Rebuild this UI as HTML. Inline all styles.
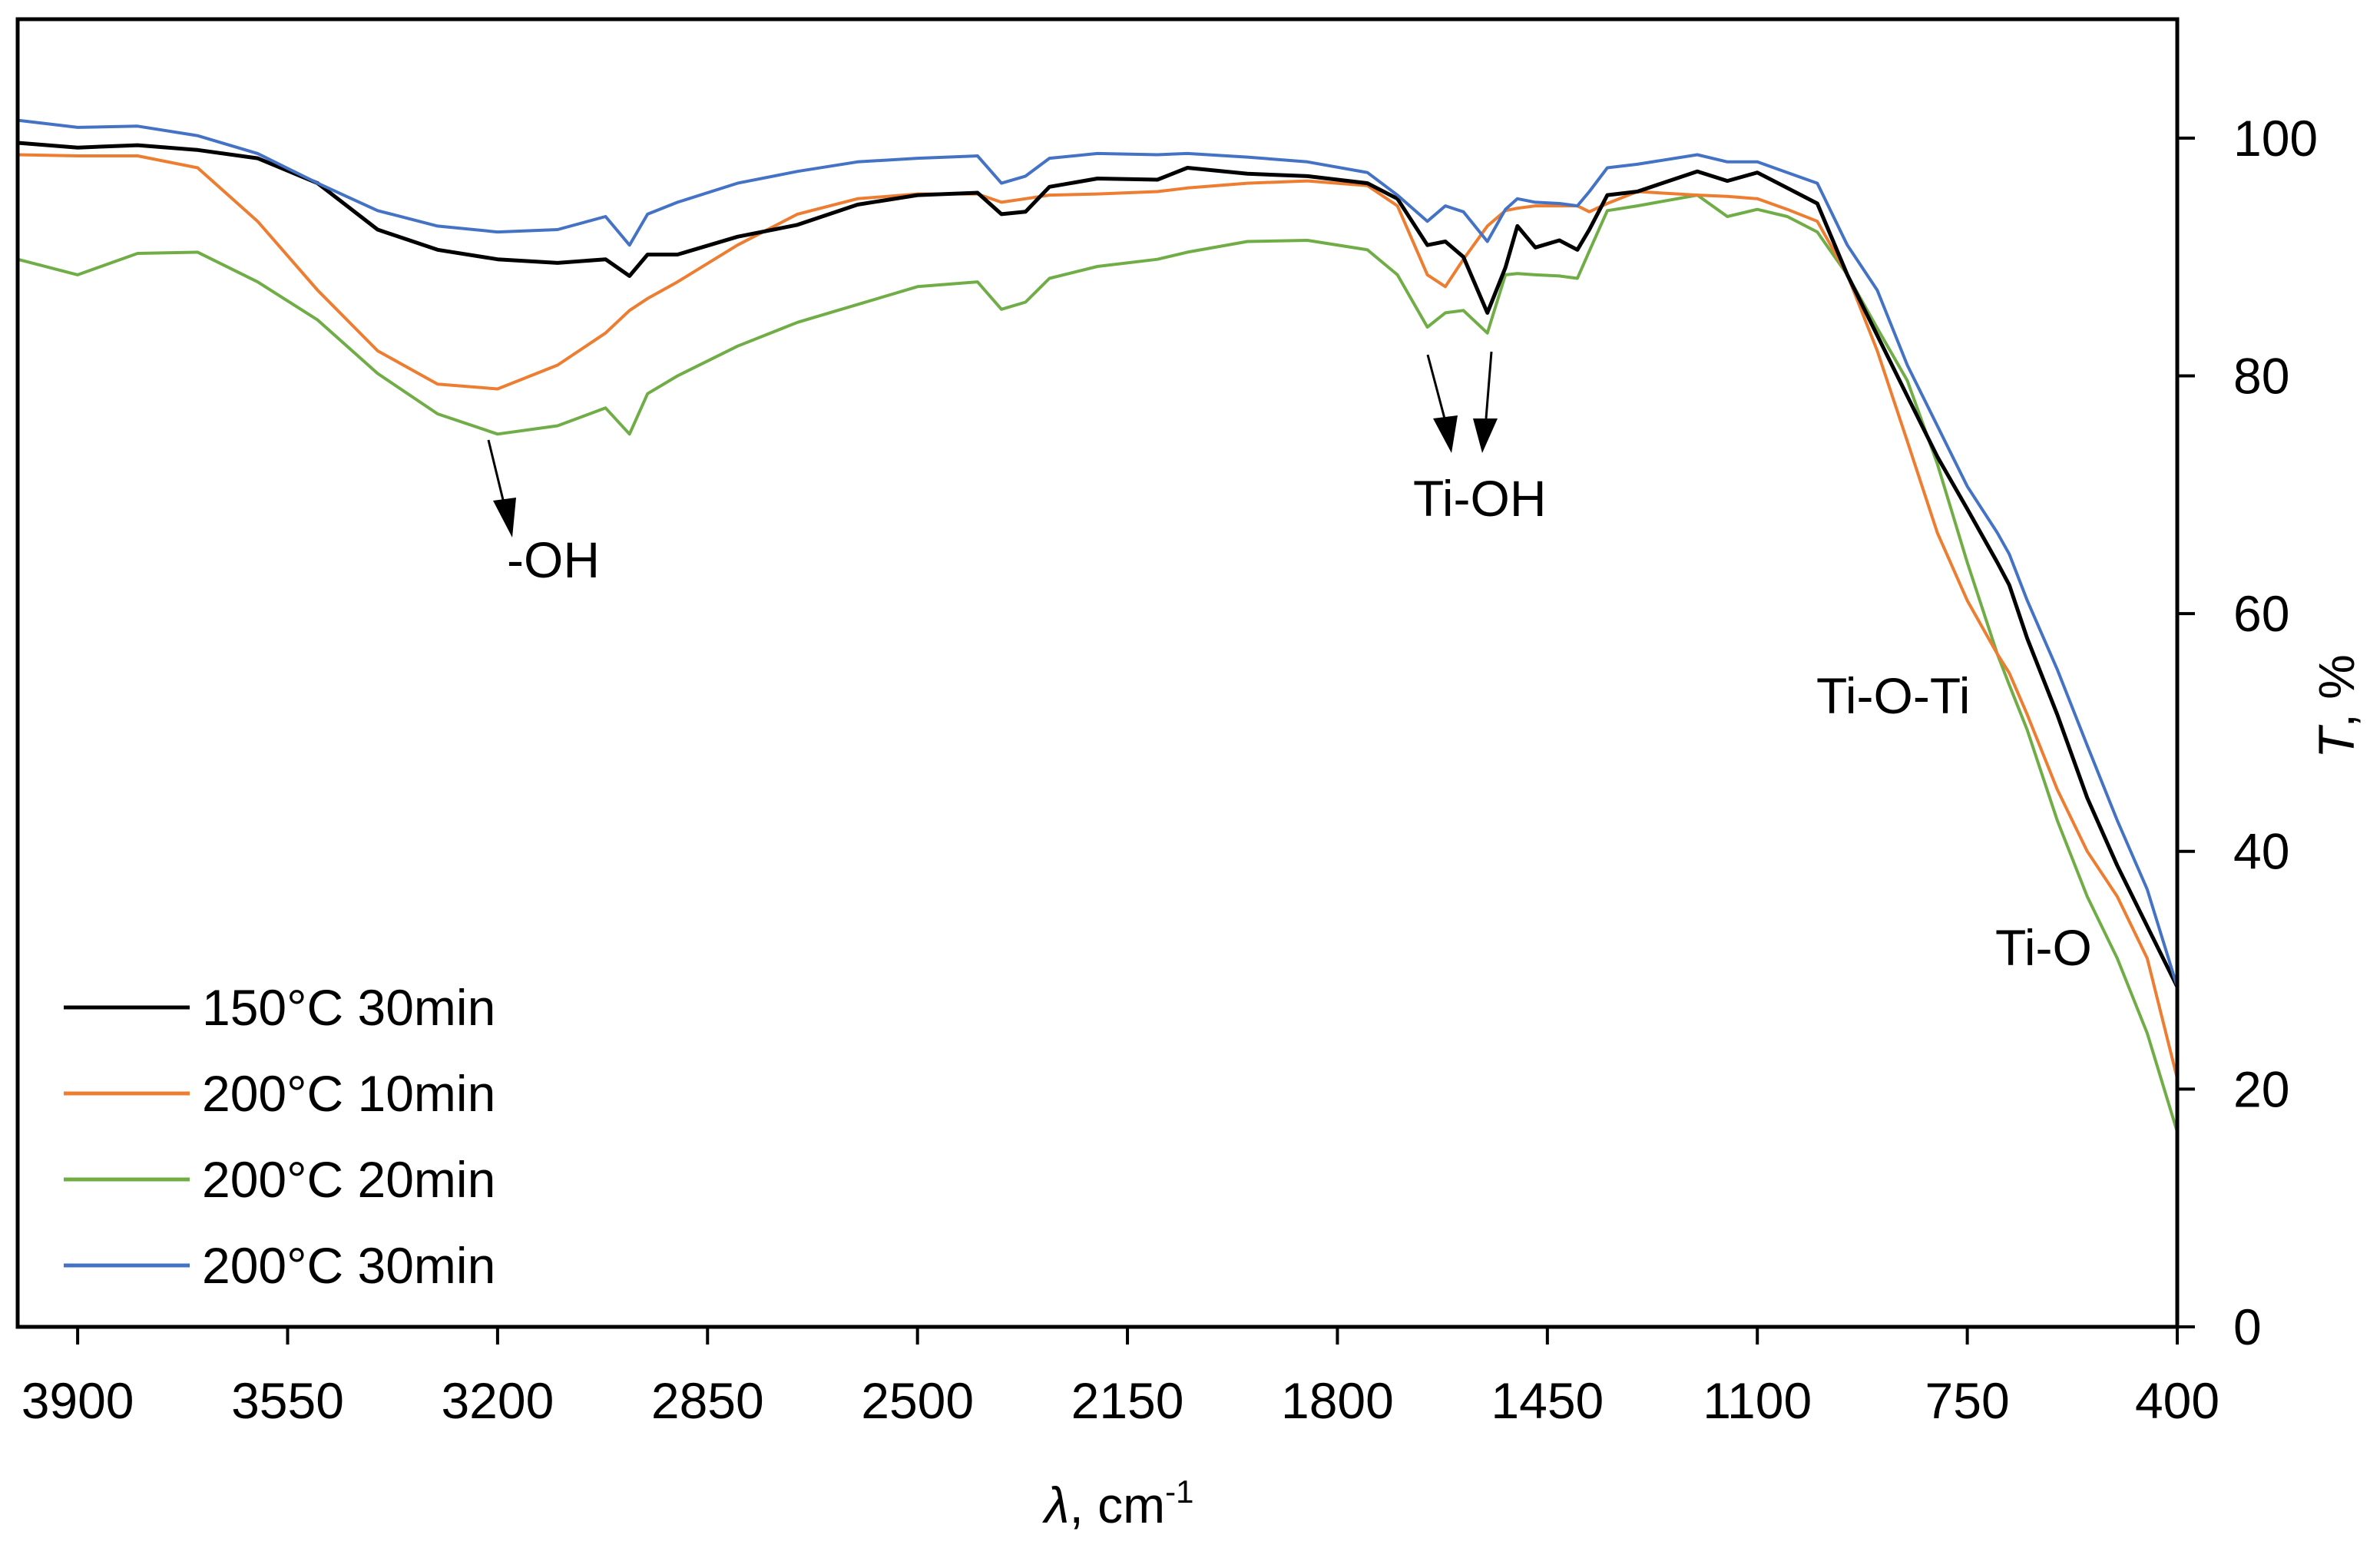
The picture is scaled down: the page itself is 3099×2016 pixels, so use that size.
<!DOCTYPE html>
<html><head><meta charset="utf-8"><style>
html,body{margin:0;padding:0;background:#fff;}
svg{display:block;font-family:"Liberation Sans",sans-serif;}
</style></head><body>
<svg id="chart" width="3099" height="2016" viewBox="0 0 3099 2016" xmlns="http://www.w3.org/2000/svg">
<rect x="0" y="0" width="3099" height="2016" fill="#fff"/>
<g id="series"></g>
<rect x="23" y="25" width="2812" height="1703" fill="none" stroke="#000" stroke-width="5"/>
<g id="xticks"></g><g id="yticks"></g>
<text x="1360" y="1983" font-size="66"><tspan font-style="italic">λ</tspan>, cm<tspan font-size="42" dy="-26">-1</tspan></text>
<text transform="translate(3065,920) rotate(-90)" text-anchor="middle" font-size="66"><tspan font-style="italic">T</tspan>, %</text>
<g id="legend"></g>
<g>
<line x1="636" y1="573" x2="656" y2="655" stroke="#000" stroke-width="3"/>
<polygon points="642,652 672,648 667,700" fill="#000"/>
<text x="660" y="752" font-size="66">-OH</text>
</g>
<g>
<line x1="1859" y1="462" x2="1881" y2="545" stroke="#000" stroke-width="3"/>
<polygon points="1866,545 1898,541 1890,590" fill="#000"/>
<line x1="1942" y1="458" x2="1935" y2="545" stroke="#000" stroke-width="3"/>
<polygon points="1918,545 1950,545 1930,590" fill="#000"/>
<text x="1840" y="672" font-size="66">Ti-OH</text>
</g>
<text x="2365" y="929" font-size="66">Ti-O-Ti</text>
<text x="2598" y="1257" font-size="66">Ti-O</text>
</svg>
<script>
const wn = [4000,3900,3800,3700,3600,3500,3400,3300,3200,3100,3020,2980,2950,2900,2800,2700,2600,2500,2400,2360,2320,2280,2200,2100,2050,1950,1850,1750,1700,1650,1620,1590,1550,1520,1500,1470,1430,1400,1380,1350,1300,1200,1150,1100,1050,1000,950,900,850,800,750,700,680,650,600,550,500,450,400];
const black150_30 = [99.6,99.2,99.4,99,98.3,96.2,92.3,90.6,89.8,89.5,89.8,88.4,90.2,90.2,91.7,92.7,94.4,95.2,95.4,93.6,93.8,95.9,96.6,96.5,97.5,97,96.8,96.2,94.9,91,91.3,90,85.3,89.1,92.6,90.8,91.4,90.6,92.3,95.2,95.5,97.2,96.4,97.1,95.8,94.5,88.5,83.4,78.3,73.2,68.8,64.3,62.4,57.9,51.5,44.5,38.8,33.7,28.6];
const blue200_30 = [101.5,100.9,101,100.2,98.7,96.2,93.9,92.6,92.1,92.3,93.4,91,93.6,94.6,96.2,97.2,98,98.3,98.5,96.2,96.8,98.3,98.7,98.6,98.7,98.4,98,97.1,95.2,93,94.3,93.8,91.3,94,94.9,94.6,94.5,94.3,95.5,97.5,97.8,98.6,98,98,97.1,96.2,91,87.2,80.9,75.8,70.7,66.8,65,61.1,55.3,48.9,42.6,36.8,28.6];
const orange200_10 = [98.6,98.5,98.5,97.5,93,87.2,82.1,79.3,78.9,80.9,83.6,85.5,86.5,87.9,91,93.6,94.9,95.3,95.3,94.6,94.9,95.2,95.3,95.5,95.8,96.2,96.4,96,94.3,88.5,87.5,89.8,92.6,93.9,94.1,94.3,94.3,94.3,93.8,94.5,95.5,95.2,95.1,94.9,94,93,88.5,82.1,74.5,66.8,61.1,56.6,55,51.5,45.2,40,36.2,31,20.9];
const green200_20 = [89.8,88.5,90.3,90.4,87.9,84.7,80.2,76.8,75.1,75.8,77.3,75.1,78.5,80,82.5,84.5,86,87.5,87.9,85.6,86.2,88.2,89.2,89.8,90.4,91.3,91.4,90.6,88.5,84.1,85.3,85.5,83.6,88.5,88.6,88.5,88.4,88.2,90.5,93.9,94.3,95.2,93.4,94,93.4,92.1,88.5,84,79.6,72.6,64.3,56.6,54,50.2,42.6,36.2,31,24.7,16.4];
const seriesNames = ["150°C 30min","200°C 10min","200°C 20min","200°C 30min"];
const seriesColors = ["#000000","#ED7D31","#70AD47","#4472C4"];
const xTicks = [3900,3550,3200,2850,2500,2150,1800,1450,1100,750,400];
const yTicks = [0,20,40,60,80,100];

const X0=23,X1=2835,Y0=1728,YT=25;
const xs = v => X0 + (4000 - v) * (X1 - X0) / 3600;
const ys = v => Y0 - v * (Y0 - YT) / 110;
const NS="http://www.w3.org/2000/svg";
const mk=(t,a,p)=>{const e=document.createElementNS(NS,t);for(const k in a)e.setAttribute(k,a[k]);p.appendChild(e);return e;};

const sg=document.getElementById('series');
const data=[black150_30,orange200_10,green200_20,blue200_30];
const order=[2,1,0,3];
order.forEach(i=>{
  const d=data[i].map((v,j)=>(j?'L':'M')+xs(wn[j]).toFixed(1)+','+ys(v).toFixed(1)).join(' ');
  const p=mk('path',{d:d,fill:'none',stroke:seriesColors[i],'stroke-width':i===0?5:4,'stroke-linejoin':'round'},sg);
  
  
});

const xg=document.getElementById('xticks');
xTicks.forEach(t=>{
  const l=mk('line',{x1:xs(t),x2:xs(t),y1:Y0,y2:Y0+23,stroke:'#000','stroke-width':4},xg);
  
  
  const tx=mk('text',{x:xs(t),y:1847,'text-anchor':'middle','font-size':66},xg);
  tx.textContent=t;
  
  
});
const yg=document.getElementById('yticks');
yTicks.forEach(t=>{
  const l=mk('line',{x1:X1,x2:X1+23,y1:ys(t),y2:ys(t),stroke:'#000','stroke-width':4},yg);
  
  
  const tx=mk('text',{x:2908,y:ys(t)+23,'font-size':66},yg);
  tx.textContent=t;
  
  
});

const lg=document.getElementById('legend');


seriesNames.forEach((n,i)=>{
  const y=1312+i*112;
  const l=mk('line',{x1:83,x2:247,y1:y,y2:y,stroke:seriesColors[i],'stroke-width':5},lg);
  
  
  const tx=mk('text',{x:263,y:y+23,'font-size':66},lg);
  tx.textContent=n;
  
  
});
</script>
</body></html>
